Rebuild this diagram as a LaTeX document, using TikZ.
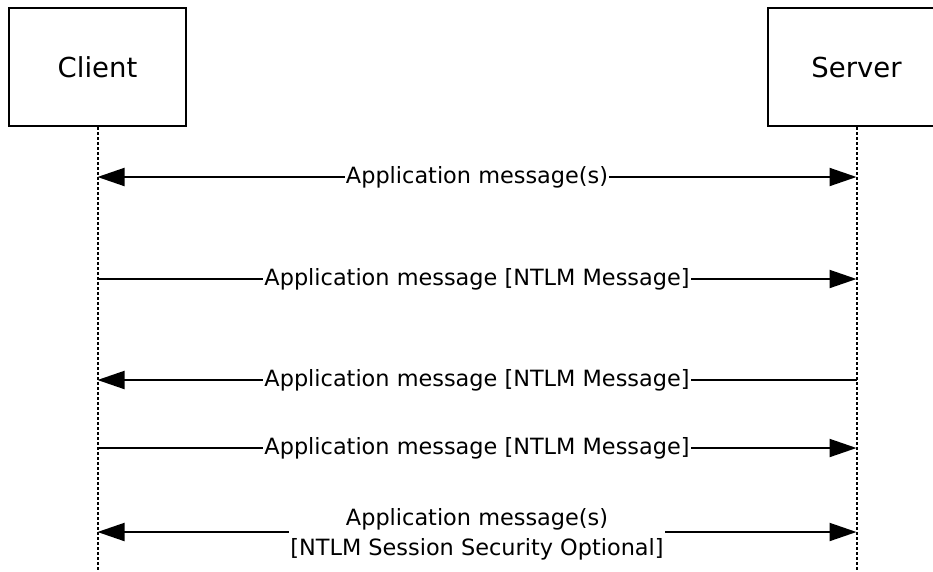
\documentclass[tikz,border=0pt]{standalone}
\usepackage{fontspec}
\setmainfont{DejaVu Sans}
\usetikzlibrary{arrows.meta,positioning}

\begin{document}
\begin{tikzpicture}[x=1pt,y=-1pt]
	\tikzstyle{party}=[draw,line width=2pt,minimum width=177pt,minimum height=118pt,inner sep=0pt,font=\fontsize{27.5}{32}\selectfont]
	\tikzstyle{life}=[line width=2pt,dash pattern=on 3pt off 2pt]
	\tikzstyle{msg}=[line width=2pt,-{Triangle[length=27pt,width=18pt]}]
	\tikzstyle{both}=[line width=2pt,{Triangle[length=27pt,width=18pt]}-{Triangle[length=27pt,width=18pt]}]
	\tikzstyle{lbl}=[fill=white,inner sep=1pt,align=center,font=\fontsize{22.4}{30}\selectfont]

	\clip (0,0) rectangle (933,571);

	%Teilnehmer
	\node[party] (client) at (97.5,67) {Client};
	\node[party] (server) at (856.5,67) {Server};

	%Lebenslinien
	\coordinate (cend) at (client.south |- 0,575);
	\coordinate (send) at (server.south |- 0,575);
	\draw[life] (client.south) -- (cend);
	\draw[life] (server.south) -- (send);

	%Nachrichten
	\foreach \n/\y in {1/177,2/279,3/380,4/448,5/532}{
		\coordinate (c\n) at (client.south |- 0,\y);
		\coordinate (s\n) at (server.south |- 0,\y);
	}
	\draw[both] (c1) -- node[lbl]{Application message(s)} (s1);
	\draw[msg] (c2) -- node[lbl]{Application message [NTLM Message]} (s2);
	\draw[msg] (s3) -- node[lbl]{Application message [NTLM Message]} (c3);
	\draw[msg] (c4) -- node[lbl]{Application message [NTLM Message]} (s4);
	\draw[both] (c5) -- node[lbl,yshift=-2pt]{Application message(s)\\{}[NTLM Session Security Optional]} (s5);

\end{tikzpicture}
\end{document}
